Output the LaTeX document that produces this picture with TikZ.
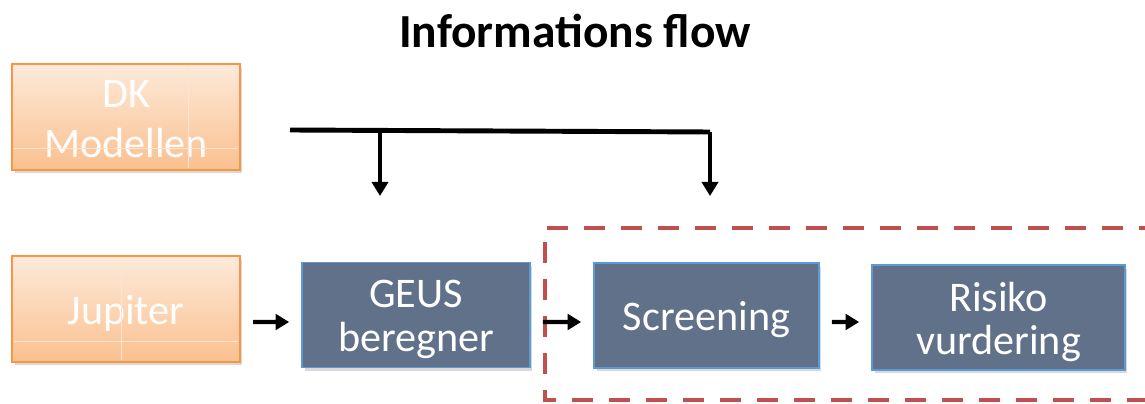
\documentclass[tikz,border=0pt]{standalone}
\usepackage{fontspec}
\setmainfont{Carlito}
\usetikzlibrary{arrows.meta,shadows}
\definecolor{srcedge}{HTML}{F79646}
\definecolor{srctop}{HTML}{FDEADA}
\definecolor{srcbot}{HTML}{FAC08F}
\definecolor{stepfill}{HTML}{607189}
\definecolor{stepedge}{HTML}{5B9BD5}
\definecolor{zonered}{HTML}{C0504D}
\tikzset{
  boxtext/.style={text=white,align=center,yshift=-0.09cm},
  source/.style={draw=srcedge,line width=1.2pt,top color=srctop,bottom color=srcbot,
    minimum width=4.56cm,minimum height=2.12cm,
    drop shadow={shadow xshift=0.05cm,shadow yshift=-0.07cm,opacity=0.3}},
  stepbox/.style={draw=stepedge,line width=1pt,fill=stepfill,minimum height=2.1cm,
    drop shadow={shadow xshift=0.05cm,shadow yshift=-0.07cm,opacity=0.3}},
  flow/.style={line width=2.3pt,-{Triangle[length=0.27cm,width=0.31cm]},
    shorten <=0.24cm,shorten >=0.24cm},
  feed/.style={line width=2.8pt,-{Triangle[length=0.28cm,width=0.32cm]}},
  gridline/.style={draw=srcedge!25,line width=0.4pt}
}
\begin{document}
\begin{tikzpicture}[x=0.02cm,y=-0.02cm]
  \useasboundingbox(0,0)rectangle(1145,404);
  \node[font=\fontsize{27}{30}\selectfont\bfseries] (title) at (575,31){Informations flow};
  %sources
  \node[source,label={[boxtext,yshift=0.04cm,font=\fontsize{24}{28.5}\selectfont]center:DK\\Modellen}]
    (dk) at (126,117){};
  \node[source,label={[boxtext,font=\fontsize{24}{28.5}\selectfont]center:Jupiter}] (jup) at (126,309){};
  \draw[gridline](188,66)--(188,168); %faint grid in DK box
  \draw[gridline](14,148)--(238,148);
  \draw[gridline](121,258)--(121,360); %faint grid in Jupiter box
  \draw[gridline](14,341)--(238,341);
  %steps
  \node[stepbox,minimum width=4.56cm,label={[boxtext,font=\fontsize{24}{25}\selectfont]center:GEUS\\beregner}]
    (geus) at (416,315){};
  \node[stepbox,minimum width=4.5cm,label={[boxtext,font=\fontsize{24}{25}\selectfont]center:Screening}]
    (screen) at (706.5,315.5){};
  \node[stepbox,minimum width=5.06cm,label={[boxtext,font=\fontsize{24}{25}\selectfont]center:Risiko\\vurdering}]
    (risk) at (998.5,317.5){};
  %red dashed zone, open to the right
  \draw[zonered,line width=2.3pt,dash pattern=on 0.42cm off 0.32cm]
    (1160,228)--(545,228)--(545,400)--(1160,400);
  %arrows along the chain
  \draw[flow]([yshift=-0.26cm]jup.east)--([yshift=-0.14cm]geus.west);
  \draw[flow]([yshift=-0.14cm]geus.east)--([yshift=-0.13cm]screen.west);
  \draw[flow]([yshift=-0.13cm]screen.east)--([yshift=-0.09cm]risk.west);
  %feed line from DK model
  \coordinate (busL) at (290,130);
  \coordinate (tapA) at (380,130.5);
  \coordinate (busR) at (710,132);
  \coordinate (dropA) at (380,196);
  \coordinate (dropB) at (710,196);
  \draw[line width=2.8pt](busL)--(busR);
  \draw[feed](busR)--(dropB);
  \draw[feed](tapA)--(dropA);
\end{tikzpicture}
\end{document}
